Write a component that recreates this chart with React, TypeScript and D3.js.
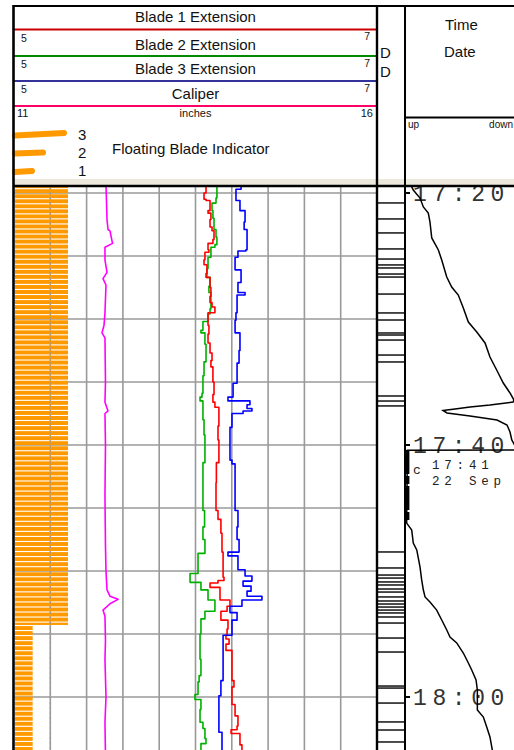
import React from 'react';
import * as d3 from 'd3';

const WIDTH = 514;
const HEIGHT = 750;

// Time is expressed as minutes after 17:00 (22 Sep).
const gridMinutes = [20, 25, 30, 35, 40, 45, 50, 55, 60, 65];
const timeLabelMinutes = [20, 40, 60];
const timeLabelTexts = ['17:20', '17:40', '18:00'];

// Floating blade indicator: number of blades floating over time.
const floatSegments = [
  { start: 19.3, end: 54.37, blades: 3 },
  { start: 54.37, end: 64.6, blades: 1 },
];
const floatSampleStep = 0.4;
const floatLegend = [3, 2, 1];

// Caliper, inches: [minute, value]
const caliper: [number, number][] = [
  [19.3, 12.267], [22.1, 12.281], [22.9, 12.295], [23.0, 12.322], [24.0, 12.357], [24.3, 12.253],
  [25.3, 12.253], [26.3, 12.281], [26.8, 12.226], [27.3, 12.267], [29.5, 12.253], [30.5, 12.240],
  [31.1, 12.212], [31.5, 12.253], [35.0, 12.260], [36.6, 12.253], [37.3, 12.295], [37.5, 12.253],
  [40.0, 12.260], [44.0, 12.253], [48.0, 12.260], [50.0, 12.267], [51.5, 12.281], [52.0, 12.322],
  [52.25, 12.433], [52.6, 12.322], [53.1, 12.226], [53.6, 12.253], [55.5, 12.260], [57.0, 12.253],
  [60.0, 12.267], [62.0, 12.253], [64.6, 12.260],
];

// Blade extensions, inches: [minute, value]
const blade1: [number, number][] = [
  [19.3, 6.058], [20.0, 6.047], [20.5, 6.058], [20.6, 6.080], [21.4, 6.069], [21.6, 6.085], [22.1, 6.080],
  [22.7, 6.091], [23.0, 6.102], [23.7, 6.096], [24.0, 6.069], [24.5, 6.074], [24.7, 6.052], [25.3, 6.047],
  [25.7, 6.063], [26.4, 6.058], [26.7, 6.080], [27.5, 6.085], [28.2, 6.080], [28.7, 6.091], [29.05, 6.107],
  [29.5, 6.069], [30.5, 6.074], [31.2, 6.069], [31.9, 6.080], [32.7, 6.091], [33.3, 6.085], [33.8, 6.096],
  [35.0, 6.102], [36.0, 6.096], [36.6, 6.107], [37.0, 6.129], [38.5, 6.124], [39.6, 6.129], [41.4, 6.115],
  [43.0, 6.113], [45.2, 6.124], [45.9, 6.140], [47.0, 6.146], [48.5, 6.152], [50.5, 6.157], [50.75, 6.124],
  [50.95, 6.080], [51.3, 6.135], [52.3, 6.190], [52.8, 6.174], [53.2, 6.140], [53.9, 6.179], [54.6, 6.174],
  [55.1, 6.168], [55.4, 6.185], [55.8, 6.168], [56.3, 6.201], [58.7, 6.212], [59.2, 6.201], [60.6, 6.218],
  [61.5, 6.234], [62.3, 6.229], [62.6, 6.196], [62.9, 6.245], [63.8, 6.256], [64.6, 6.245],
];

const blade2: [number, number][] = [
  [19.3, 6.118], [20.4, 6.113], [20.8, 6.091], [21.4, 6.096], [22.0, 6.102], [22.9, 6.113], [23.5, 6.118],
  [24.1, 6.107], [24.3, 6.085], [25.1, 6.069], [26.0, 6.063], [26.7, 6.080], [27.4, 6.074], [27.9, 6.085],
  [29.2, 6.080], [29.6, 6.069], [30.2, 6.041], [30.9, 6.030], [31.1, 6.052], [32.0, 6.058], [33.4, 6.047],
  [34.5, 6.041], [35.9, 6.036], [36.2, 6.025], [36.5, 6.041], [38.0, 6.047], [39.2, 6.052], [41.4, 6.041],
  [45.2, 6.050], [46.5, 6.041], [47.5, 6.052], [48.6, 6.014], [50.2, 5.970], [50.9, 6.030], [51.5, 6.069],
  [52.3, 6.107], [53.2, 6.052], [53.8, 6.030], [55.0, 6.025], [56.0, 6.025], [57.0, 6.030], [58.3, 6.020],
  [58.8, 6.014], [59.8, 5.997], [60.2, 6.030], [61.0, 6.025], [62.0, 6.041], [62.5, 6.052], [63.3, 6.058],
  [63.7, 6.030], [64.6, 6.030],
];

const blade3: [number, number][] = [
  [19.3, 6.251], [19.7, 6.223], [20.6, 6.245], [21.4, 6.273], [22.3, 6.268], [22.9, 6.284], [24.5, 6.278],
  [24.6, 6.234], [25.1, 6.218], [26.1, 6.251], [27.1, 6.234], [27.9, 6.273], [28.1, 6.229], [29.5, 6.223],
  [30.1, 6.218], [31.1, 6.245], [32.5, 6.240], [33.5, 6.229], [35.1, 6.207], [36.2, 6.179], [36.5, 6.300],
  [36.8, 6.284], [37.1, 6.311], [37.3, 6.262], [37.5, 6.201], [38.6, 6.190], [41.2, 6.201], [41.5, 6.218],
  [45.2, 6.234], [46.5, 6.229], [47.5, 6.240], [48.5, 6.179], [48.8, 6.234], [49.9, 6.273], [50.4, 6.311],
  [50.8, 6.262], [51.2, 6.306], [51.6, 6.284], [52.0, 6.366], [52.3, 6.256], [52.8, 6.190], [53.3, 6.229],
  [53.9, 6.201], [55.1, 6.152], [58.7, 6.140], [59.9, 6.129], [62.8, 6.146], [64.6, 6.140],
];

// Depth marks in the depth column, minutes.
const depthMarks = [
  20.79, 22.06, 23.17, 24.44, 25.24, 25.71, 25.95, 26.43, 26.67, 28.02, 29.52, 30.08, 31.11, 31.27,
  31.67, 32.86, 33.41, 36.11, 36.51, 36.9, 48.49, 49.76, 50.32, 50.56, 50.87, 51.11, 51.43, 51.67,
  52.06, 52.38, 52.62, 52.86, 53.1, 53.33, 53.65, 54.13, 55.32, 56.43, 59.13, 59.29, 60.48, 61.98,
  62.62, 63.57,
];

// Line speed (up / down scale, percent of track): [minute, value]
const lineSpeed: [number, number][] = [
  [19.4, 5.0], [19.76, 6.9], [20.4, 12.5], [21.11, 15.3], [21.59, 19.4], [22.3, 20.8], [23.57, 22.3],
  [24.52, 27.8], [25.32, 30.6], [26.67, 34.8], [27.46, 38.9], [28.1, 44.4], [29.13, 48.6], [30.24, 52.8],
  [31.03, 59.8], [31.9, 66.7], [33.02, 70.8], [34.05, 76.4], [35.08, 81.9], [35.87, 87.5], [36.43, 90.8],
  [36.59, 90.0], [36.83, 70.8], [36.98, 54.2], [37.14, 41.7], [37.26, 31.7], [37.46, 35.0], [37.7, 54.2],
  [38.02, 76.7], [38.41, 85.0], [38.97, 87.5], [39.6, 89.0], [40.3, 93.0], [40.4, 92.0], [40.41, 2.0],
  [45.95, 1.4], [46.2, 1.4], [46.75, 5.6], [47.78, 6.9], [48.33, 9.8], [49.68, 12.5], [50.71, 13.9],
  [51.51, 15.3], [52.06, 16.7], [52.46, 20.8], [53.1, 26.4], [53.89, 30.6], [54.68, 34.8], [55.24, 37.5],
  [55.71, 43.1], [56.51, 48.6], [57.3, 52.8], [57.86, 55.6], [58.65, 59.2], [59.44, 60.3], [61.03, 60.3],
  [61.59, 65.3], [62.38, 68.1], [63.17, 70.8], [64.6, 73.5],
];
const stopStart = 40.4;
const stopEnd = 45.95;
const stopMinute = 41;
const stopTime = '17:41';
const stopDate = '22 Sep';

const headerRows = [
  { title: 'Blade 1 Extension', color: '#cc0000', min: '5', max: '7', mid: '' },
  { title: 'Blade 2 Extension', color: '#008a00', min: '5', max: '7', mid: '' },
  { title: 'Blade 3 Extension', color: '#333399', min: '5', max: '7', mid: '' },
  { title: 'Caliper', color: '#ff0066', min: '11', max: '16', mid: 'inches' },
];

const SANS = 'Liberation Sans, Arial, sans-serif';
const MONO = 'Liberation Mono, Courier New, monospace';

const LEFT = 14;
const TRACK_RIGHT = 377;
const DEPTH_RIGHT = 405;
const HEADER_TOP = 6;
const HEADER_BOTTOM = 186;
const BODY_TOP = 187;

export default function App() {
  const y = d3.scaleLinear().domain([20, 60]).range([193, 697]);
  const xBlade = d3.scaleLinear().domain([5, 7]).range([LEFT, TRACK_RIGHT]);
  const xCal = d3.scaleLinear().domain([11, 16]).range([LEFT, TRACK_RIGHT]);
  const xFloat = d3.scaleLinear().domain([0, 3]).range([15, 68]);
  const xSpeed = d3.scaleLinear().domain([0, 100]).range([DEPTH_RIGHT, 525]);

  const gridX = xBlade.ticks(10).slice(1, -1).map((v) => xBlade(v));

  const bladeLine = d3
    .line<[number, number]>()
    .x((d) => xBlade(d[1]))
    .y((d) => y(d[0]))
    .curve(d3.curveStepBefore);
  const calLine = d3
    .line<[number, number]>()
    .x((d) => xCal(d[1]))
    .y((d) => y(d[0]))
    .curve(d3.curveLinear);
  const speedLine = d3
    .line<[number, number]>()
    .x((d) => xSpeed(d[1]))
    .y((d) => y(d[0]));

  const floatBars = floatSegments.flatMap((seg) =>
    d3.range(seg.start, seg.end - 1e-6, floatSampleStep).map((t) => ({
      t,
      end: Math.min(t + floatSampleStep, seg.end),
      blades: seg.blades,
    }))
  );

  const headerLineY = [29.5, 56, 81, 106];
  const titleBaseline = [22, 50, 74, 99];

  return (
    <svg
      width={WIDTH}
      height={HEIGHT}
      style={{ position: 'absolute', left: 0, top: 0, display: 'block', background: '#fff' }}
    >
      <defs>
        <clipPath id="body-clip">
          <rect x={0} y={BODY_TOP} width={WIDTH} height={HEIGHT - BODY_TOP} />
        </clipPath>
        <clipPath id="track-clip">
          <rect x={LEFT} y={BODY_TOP} width={TRACK_RIGHT - LEFT} height={HEIGHT - BODY_TOP} />
        </clipPath>
        <clipPath id="time-clip">
          <rect x={DEPTH_RIGHT} y={BODY_TOP} width={WIDTH - DEPTH_RIGHT} height={HEIGHT - BODY_TOP} />
        </clipPath>
      </defs>
      <rect x={0} y={0} width={WIDTH} height={HEIGHT} fill="#fff" />

      {/* main track grid */}
      <g clipPath="url(#track-clip)" stroke="#9a9a9a" strokeWidth={1.6}>
        {gridMinutes.map((m) => (
          <line key={'h' + m} x1={LEFT} x2={TRACK_RIGHT} y1={y(m)} y2={y(m)} />
        ))}
        {gridX.map((x, i) => (
          <line key={'v' + i} x1={x} x2={x} y1={BODY_TOP} y2={HEIGHT} />
        ))}
      </g>

      {/* floating blade indicator bars */}
      <g clipPath="url(#track-clip)">
        {floatBars.map((b, i) => (
          <rect
            key={i}
            x={xFloat(0)}
            y={y(b.t)}
            width={xFloat(b.blades) - xFloat(0)}
            height={Math.max(0.5, y(b.end) - y(b.t) - 1.1)}
            fill="#ff9900"
          />
        ))}
        {gridX
          .filter((x) => x < xFloat(3))
          .map((x, i) => (
            <line
              key={i}
              x1={x}
              x2={x}
              y1={BODY_TOP}
              y2={HEIGHT}
              stroke="#9a9a9a"
              strokeWidth={1.4}
              strokeDasharray="2 3"
              opacity={0.7}
            />
          ))}
      </g>

      {/* curves */}
      <g clipPath="url(#track-clip)" fill="none" strokeWidth={1.6} strokeLinejoin="round">
        <path d={calLine(caliper) || ''} stroke="#ff00ff" />
        <path d={bladeLine(blade2) || ''} stroke="#00b000" />
        <path d={bladeLine(blade1) || ''} stroke="#ff0000" />
        <path d={bladeLine(blade3) || ''} stroke="#0000ff" />
      </g>

      {/* depth column marks */}
      <g clipPath="url(#body-clip)" stroke="#000" strokeWidth={1.4}>
        {depthMarks.map((m, i) => (
          <line key={i} x1={TRACK_RIGHT} x2={DEPTH_RIGHT} y1={y(m)} y2={y(m)} />
        ))}
      </g>

      {/* time track */}
      <g clipPath="url(#time-clip)">
        {timeLabelMinutes.map((m, i) => (
          <g key={m}>
            <line x1={DEPTH_RIGHT} x2={DEPTH_RIGHT + 5} y1={y(m)} y2={y(m)} stroke="#000" strokeWidth={2} />
            <text
              x={413}
              y={y(m) + 7.5}
              fontFamily={MONO}
              fontSize={23}
              letterSpacing={5.6}
              fill="#333"
            >
              {timeLabelTexts[i]}
            </text>
          </g>
        ))}
        <path d={speedLine(lineSpeed) || ''} fill="none" stroke="#000" strokeWidth={1.5} />
        <line
          x1={xSpeed(2)}
          x2={xSpeed(2)}
          y1={y(stopStart)}
          y2={y(stopEnd)}
          stroke="#000"
          strokeWidth={4}
          strokeDasharray="24 2 8 2"
        />
        <text x={413} y={y(stopMinute) + 16} fontFamily={MONO} fontSize={13} fill="#222">
          c
        </text>
        <text x={432} y={y(stopMinute) + 11} fontFamily={MONO} fontSize={12.5} letterSpacing={4.8} fill="#222">
          {stopTime}
        </text>
        <text x={432} y={y(stopMinute) + 27.5} fontFamily={MONO} fontSize={12.5} letterSpacing={4.8} fill="#222">
          {stopDate}
        </text>
      </g>

      {/* header */}
      <rect x={0} y={0} width={WIDTH} height={BODY_TOP} fill="#fff" />
      <rect x={LEFT} y={179} width={WIDTH - LEFT} height={7} fill="#ece8dc" />
      {headerRows.map((r, i) => (
        <g key={r.title} fontFamily={SANS}>
          <text x={(LEFT + TRACK_RIGHT) / 2} y={titleBaseline[i]} textAnchor="middle" fontSize={15} fill="#111">
            {r.title}
          </text>
          <line x1={LEFT} x2={TRACK_RIGHT} y1={headerLineY[i]} y2={headerLineY[i]} stroke={r.color} strokeWidth={2} />
          <text x={r.min.length > 1 ? 17 : 21} y={headerLineY[i] + (i === 3 ? 11 : 12)} fontSize={r.min.length > 1 ? 11 : 10.5} fill="#111">
            {r.min}
          </text>
          <text
            x={r.max.length > 1 ? 373 : 370}
            y={headerLineY[i] + (i === 3 ? 11 : 10.5)}
            textAnchor="end"
            fontSize={r.max.length > 1 ? 11 : 10.5}
            fill="#111"
          >
            {r.max}
          </text>
          {r.mid && (
            <text x={(LEFT + TRACK_RIGHT) / 2} y={headerLineY[i] + 11} textAnchor="middle" fontSize={11} fill="#111">
              {r.mid}
            </text>
          )}
        </g>
      ))}
      {/* floating blade legend */}
      {floatLegend.map((n, i) => {
        const ly = [134.5, 152.5, 171][i];
        const lx = [64, 43, 32][i];
        return (
          <g key={n} fontFamily={SANS}>
            <line x1={15} x2={lx} y1={ly + 1} y2={ly - (n === 3 ? 1.5 : 0)} stroke="#ff9900" strokeWidth={6} strokeLinecap="round" />
            <text x={78} y={ly + 5} fontSize={15} fill="#111">
              {n}
            </text>
          </g>
        );
      })}
      <text x={112} y={154} fontFamily={SANS} fontSize={15} fill="#111">
        Floating Blade Indicator
      </text>
      <text x={380} y={58} fontFamily={SANS} fontSize={15} fill="#111">
        D
      </text>
      <text x={380} y={77} fontFamily={SANS} fontSize={15} fill="#111">
        D
      </text>
      <text x={445} y={30} fontFamily={SANS} fontSize={15} fill="#111">
        Time
      </text>
      <text x={444} y={57} fontFamily={SANS} fontSize={15} fill="#111">
        Date
      </text>
      <line x1={DEPTH_RIGHT} x2={WIDTH} y1={117.5} y2={117.5} stroke="#000" strokeWidth={2} />
      <text x={408} y={128} fontFamily={SANS} fontSize={10} fill="#111">
        up
      </text>
      <text x={513} y={127.5} textAnchor="end" fontFamily={SANS} fontSize={10} fill="#111">
        down
      </text>

      {/* borders */}
      <line x1={LEFT - 1} x2={WIDTH} y1={HEADER_TOP} y2={HEADER_TOP} stroke="#000" strokeWidth={2.2} />
      <line x1={LEFT - 1} x2={WIDTH} y1={HEADER_BOTTOM} y2={HEADER_BOTTOM} stroke="#000" strokeWidth={2.6} />
      <line x1={LEFT - 0.5} x2={LEFT - 0.5} y1={HEADER_TOP - 1} y2={HEIGHT} stroke="#000" strokeWidth={2.6} />
      <line x1={TRACK_RIGHT} x2={TRACK_RIGHT} y1={HEADER_TOP - 1} y2={HEIGHT} stroke="#000" strokeWidth={2.4} />
      <line x1={DEPTH_RIGHT} x2={DEPTH_RIGHT} y1={HEADER_TOP - 1} y2={HEIGHT} stroke="#000" strokeWidth={2} />
    </svg>
  );
}
